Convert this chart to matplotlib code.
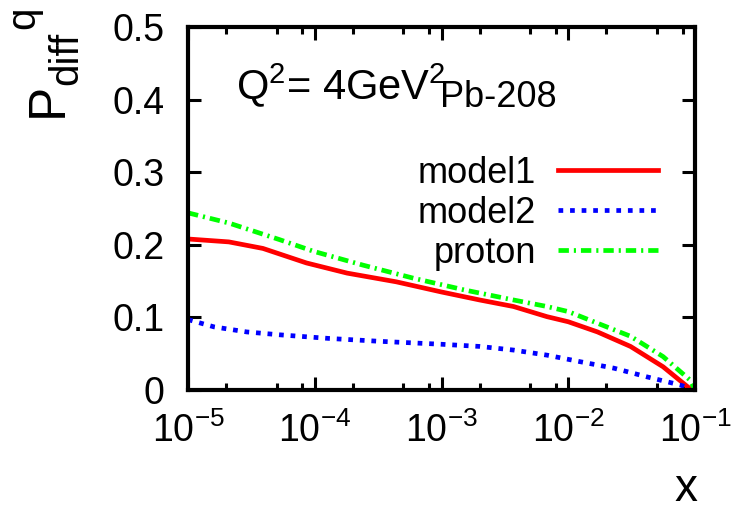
import matplotlib
matplotlib.use("Agg")
import matplotlib.pyplot as plt
from matplotlib.ticker import FixedLocator, FixedFormatter, NullLocator

plt.rcParams['font.family'] = ['Liberation Sans', 'DejaVu Sans']
plt.rcParams['mathtext.fontset'] = 'custom'
plt.rcParams['mathtext.rm'] = 'Liberation Sans'
plt.rcParams['mathtext.it'] = 'Liberation Sans'
plt.rcParams['mathtext.bf'] = 'Liberation Sans'
plt.rcParams['mathtext.default'] = 'regular'

# ---- data ----
model1_x = [1e-5, 2.1e-5, 3.9e-5, 8.6e-5, 1.8e-4, 4.4e-4, 1e-3, 2e-3, 3.7e-3,
            6.8e-3, 1e-2, 1.7e-2, 3.1e-2, 5.6e-2, 9.1e-2, 1e-1]
model1_y = [0.208, 0.204, 0.195, 0.175, 0.161, 0.149, 0.135, 0.124, 0.115,
            0.101, 0.094, 0.080, 0.060, 0.032, 0.002, 0.0]

proton_x = [1e-5, 2.1e-5, 5.3e-5, 9.8e-5, 2.4e-4, 6e-4, 1.5e-3, 3.7e-3, 6.8e-3,
            1e-2, 1.7e-2, 3.1e-2, 5.6e-2, 9.1e-2, 1e-1]
proton_y = [0.244, 0.230, 0.207, 0.191, 0.172, 0.154, 0.138, 0.124, 0.115,
            0.108, 0.092, 0.074, 0.046, 0.014, 0.0]

model2_x = [1e-5, 1.6e-5, 2.9e-5, 5.3e-5, 1.3e-4, 3.3e-4, 1e-3, 2e-3, 3.7e-3,
            6.8e-3, 1.24e-2, 2.3e-2, 4.2e-2, 7.6e-2, 1e-1]
model2_y = [0.097, 0.087, 0.080, 0.076, 0.071, 0.067, 0.063, 0.060, 0.055,
            0.048, 0.039, 0.030, 0.018, 0.007, 0.0]

series_labels = ['model1', 'model2', 'proton']
xticks = [1e-5, 1e-4, 1e-3, 1e-2, 1e-1]
xtick_labels = [r'10$^{-5}$', r'10$^{-4}$', r'10$^{-3}$', r'10$^{-2}$', r'10$^{-1}$']
xminor_subs = [2, 5, 8]
yticks = [0, 0.1, 0.2, 0.3, 0.4, 0.5]
ytick_labels = ['0', '0.1', '0.2', '0.3', '0.4', '0.5']

# ---- figure ----
W, H = 732, 512
fig = plt.figure(figsize=(W / 100, H / 100), dpi=100)
L, R, T, B = 188, 695, 27, 390
ax = fig.add_axes([L / W, 1 - B / H, (R - L) / W, (B - T) / H])

lw = 3.4
ax.plot(model1_x, model1_y, color='#ff0000', lw=lw, label=series_labels[0])
ax.plot(model2_x, model2_y, color='#0000ff', lw=lw, linestyle=(0, (1.0, 1.45)),
        label=series_labels[1])
ax.plot(proton_x, proton_y, color='#00ff00', lw=lw,
        linestyle=(0, (2.2, 1.05, 0.45, 1.05)), label=series_labels[2])

ax.set_xscale('log')
ax.set_xlim(xticks[0], xticks[-1])
ax.set_ylim(yticks[0], yticks[-1])

minor = [m * 10.0 ** e for e in range(-5, -1) for m in xminor_subs]
ax.xaxis.set_major_locator(FixedLocator(xticks))
ax.xaxis.set_major_formatter(FixedFormatter(xtick_labels))
ax.xaxis.set_minor_locator(FixedLocator(minor))
ax.xaxis.set_minor_formatter(FixedFormatter([''] * len(minor)))
ax.yaxis.set_major_locator(FixedLocator(yticks))
ax.yaxis.set_major_formatter(FixedFormatter(ytick_labels))
ax.yaxis.set_minor_locator(NullLocator())

ax.tick_params(which='both', direction='in', top=True, right=True, width=2.2,
               labelsize=27)
ax.tick_params(which='major', length=9.5)
ax.tick_params(which='minor', length=5)
ax.tick_params(axis='y', pad=17)
ax.tick_params(axis='x', pad=16)
for s in ax.spines.values():
    s.set_linewidth(3)

fs_leg = 26
leg = ax.legend(loc='upper right', frameon=False, markerfirst=False,
                fontsize=fs_leg, handlelength=100 / (fs_leg * 100 / 72),
                handletextpad=0.6, labelspacing=0.14, borderpad=0, borderaxespad=0,
                bbox_to_anchor=((658 - L) / (R - L), (B - 156) / (B - T)))

# annotations
ax.text((236 - L) / (R - L), (B - 99) / (B - T), r'Q$^2$= 4GeV$^2$',
        transform=ax.transAxes, fontsize=30, va='baseline', ha='left')
ax.text((440 - L) / (R - L), (B - 107) / (B - T), 'Pb-208',
        transform=ax.transAxes, fontsize=26, va='baseline', ha='left')

# y label: P_diff^q
fig.text(62 / W, 1 - 117 / H, 'P', fontsize=37, rotation=90,
         rotation_mode='anchor', ha='left', va='baseline')
fig.text(77 / W, 1 - 85 / H, 'diff', fontsize=29, rotation=90,
         rotation_mode='anchor', ha='left', va='baseline')
fig.text(34 / W, 1 - 29 / H, 'q', fontsize=29, rotation=90,
         rotation_mode='anchor', ha='left', va='baseline')

# x label
fig.text(697 / W, 1 - 511 / H, 'x', fontsize=33, ha='right', va='bottom')

fig.savefig('out.png', dpi=100)
